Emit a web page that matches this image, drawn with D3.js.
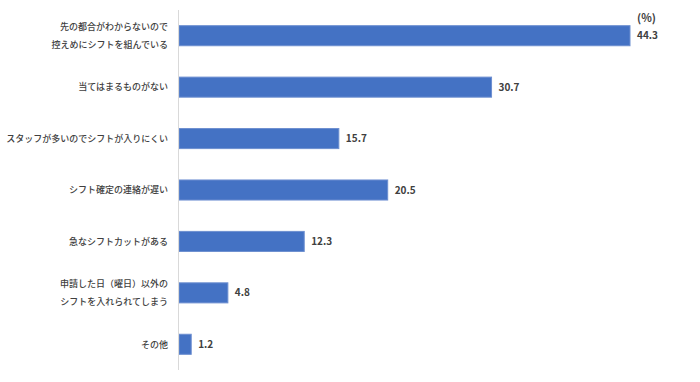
<!DOCTYPE html>
<html>
<head>
<meta charset="utf-8">
<script src="https://cdn.jsdelivr.net/npm/d3@7"></script>
<style>
  body { margin: 0; background: #fff; }
  text { font-family: "Noto Sans CJK JP", "Noto Sans", sans-serif; }
</style>
</head>
<body>
<div class="chart"></div>
<script>
// chart size
const w = 700
const h = 382

// data
const categories = [
  ["先の都合がわからないので", "控えめにシフトを組んでいる"],
  ["当てはまるものがない"],
  ["スタッフが多いのでシフトが入りにくい"],
  ["シフト確定の連絡が遅い"],
  ["急なシフトカットがある"],
  ["申請した日（曜日）以外の", "シフトを入れられてしまう"],
  ["その他"]
]
const values = [44.3, 30.7, 15.7, 20.5, 12.3, 4.8, 1.2]
const unitLabel = "(%)"

const svg = d3.select(".chart")
  .append("svg")
    .attr("width", w)
    .attr("height", h)

const x = d3.scaleLinear()
  .domain([0, 44.3])
  .range([179, 630])

const y = d3.scaleBand()
  .domain(d3.range(values.length))
  .range([10, 370])
  .paddingInner(0.61)
  .paddingOuter(0.305)

// bars
svg.append("g")
  .selectAll("rect")
  .data(values)
  .join("rect")
    .attr("x", x(0))
    .attr("y", (d, i) => y(i))
    .attr("width", d => x(d) - x(0))
    .attr("height", y.bandwidth())
    .attr("fill", "#4472c4")
    .attr("stroke", "#6d8fd0")
    .attr("stroke-width", 1)

// vertical axis line
svg.append("line")
  .attr("x1", 178.5).attr("x2", 178.5)
  .attr("y1", 10).attr("y2", 370)
  .attr("stroke", "#d9d9d9")
  .attr("stroke-width", 1)

// category labels
const labels = svg.append("g")
  .selectAll("text")
  .data(categories)
  .join("text")
    .attr("x", 168)
    .attr("y", (d, i) => y(i) + y.bandwidth() / 2)
    .attr("text-anchor", "end")
    .attr("font-size", 9)
    .attr("font-weight", 500)
    .attr("fill", "#404040")

labels.selectAll("tspan")
  .data(d => d.map((t, k) => ({ t, k, n: d.length })))
  .join("tspan")
    .attr("x", 168)
    .attr("dy", d => d.k === 0 ? (d.n === 1 ? 3.3 : -5.7) : 18)
    .text(d => d.t)

// value labels
svg.append("g")
  .selectAll("text")
  .data(values)
  .join("text")
    .attr("x", d => x(d) + 7)
    .attr("y", (d, i) => y(i) + y.bandwidth() / 2)
    .attr("dy", "0.35em")
    .attr("font-size", 10)
    .attr("font-weight", 700)
    .attr("fill", "#404040")
    .text(d => d.toFixed(1))

// unit
svg.append("text")
  .attr("x", 637)
  .attr("y", 18)
  .attr("dy", "0.35em")
  .attr("font-size", 11)
  .attr("font-weight", 700)
  .attr("fill", "#404040")
  .text(unitLabel)
</script>
</body>
</html>
